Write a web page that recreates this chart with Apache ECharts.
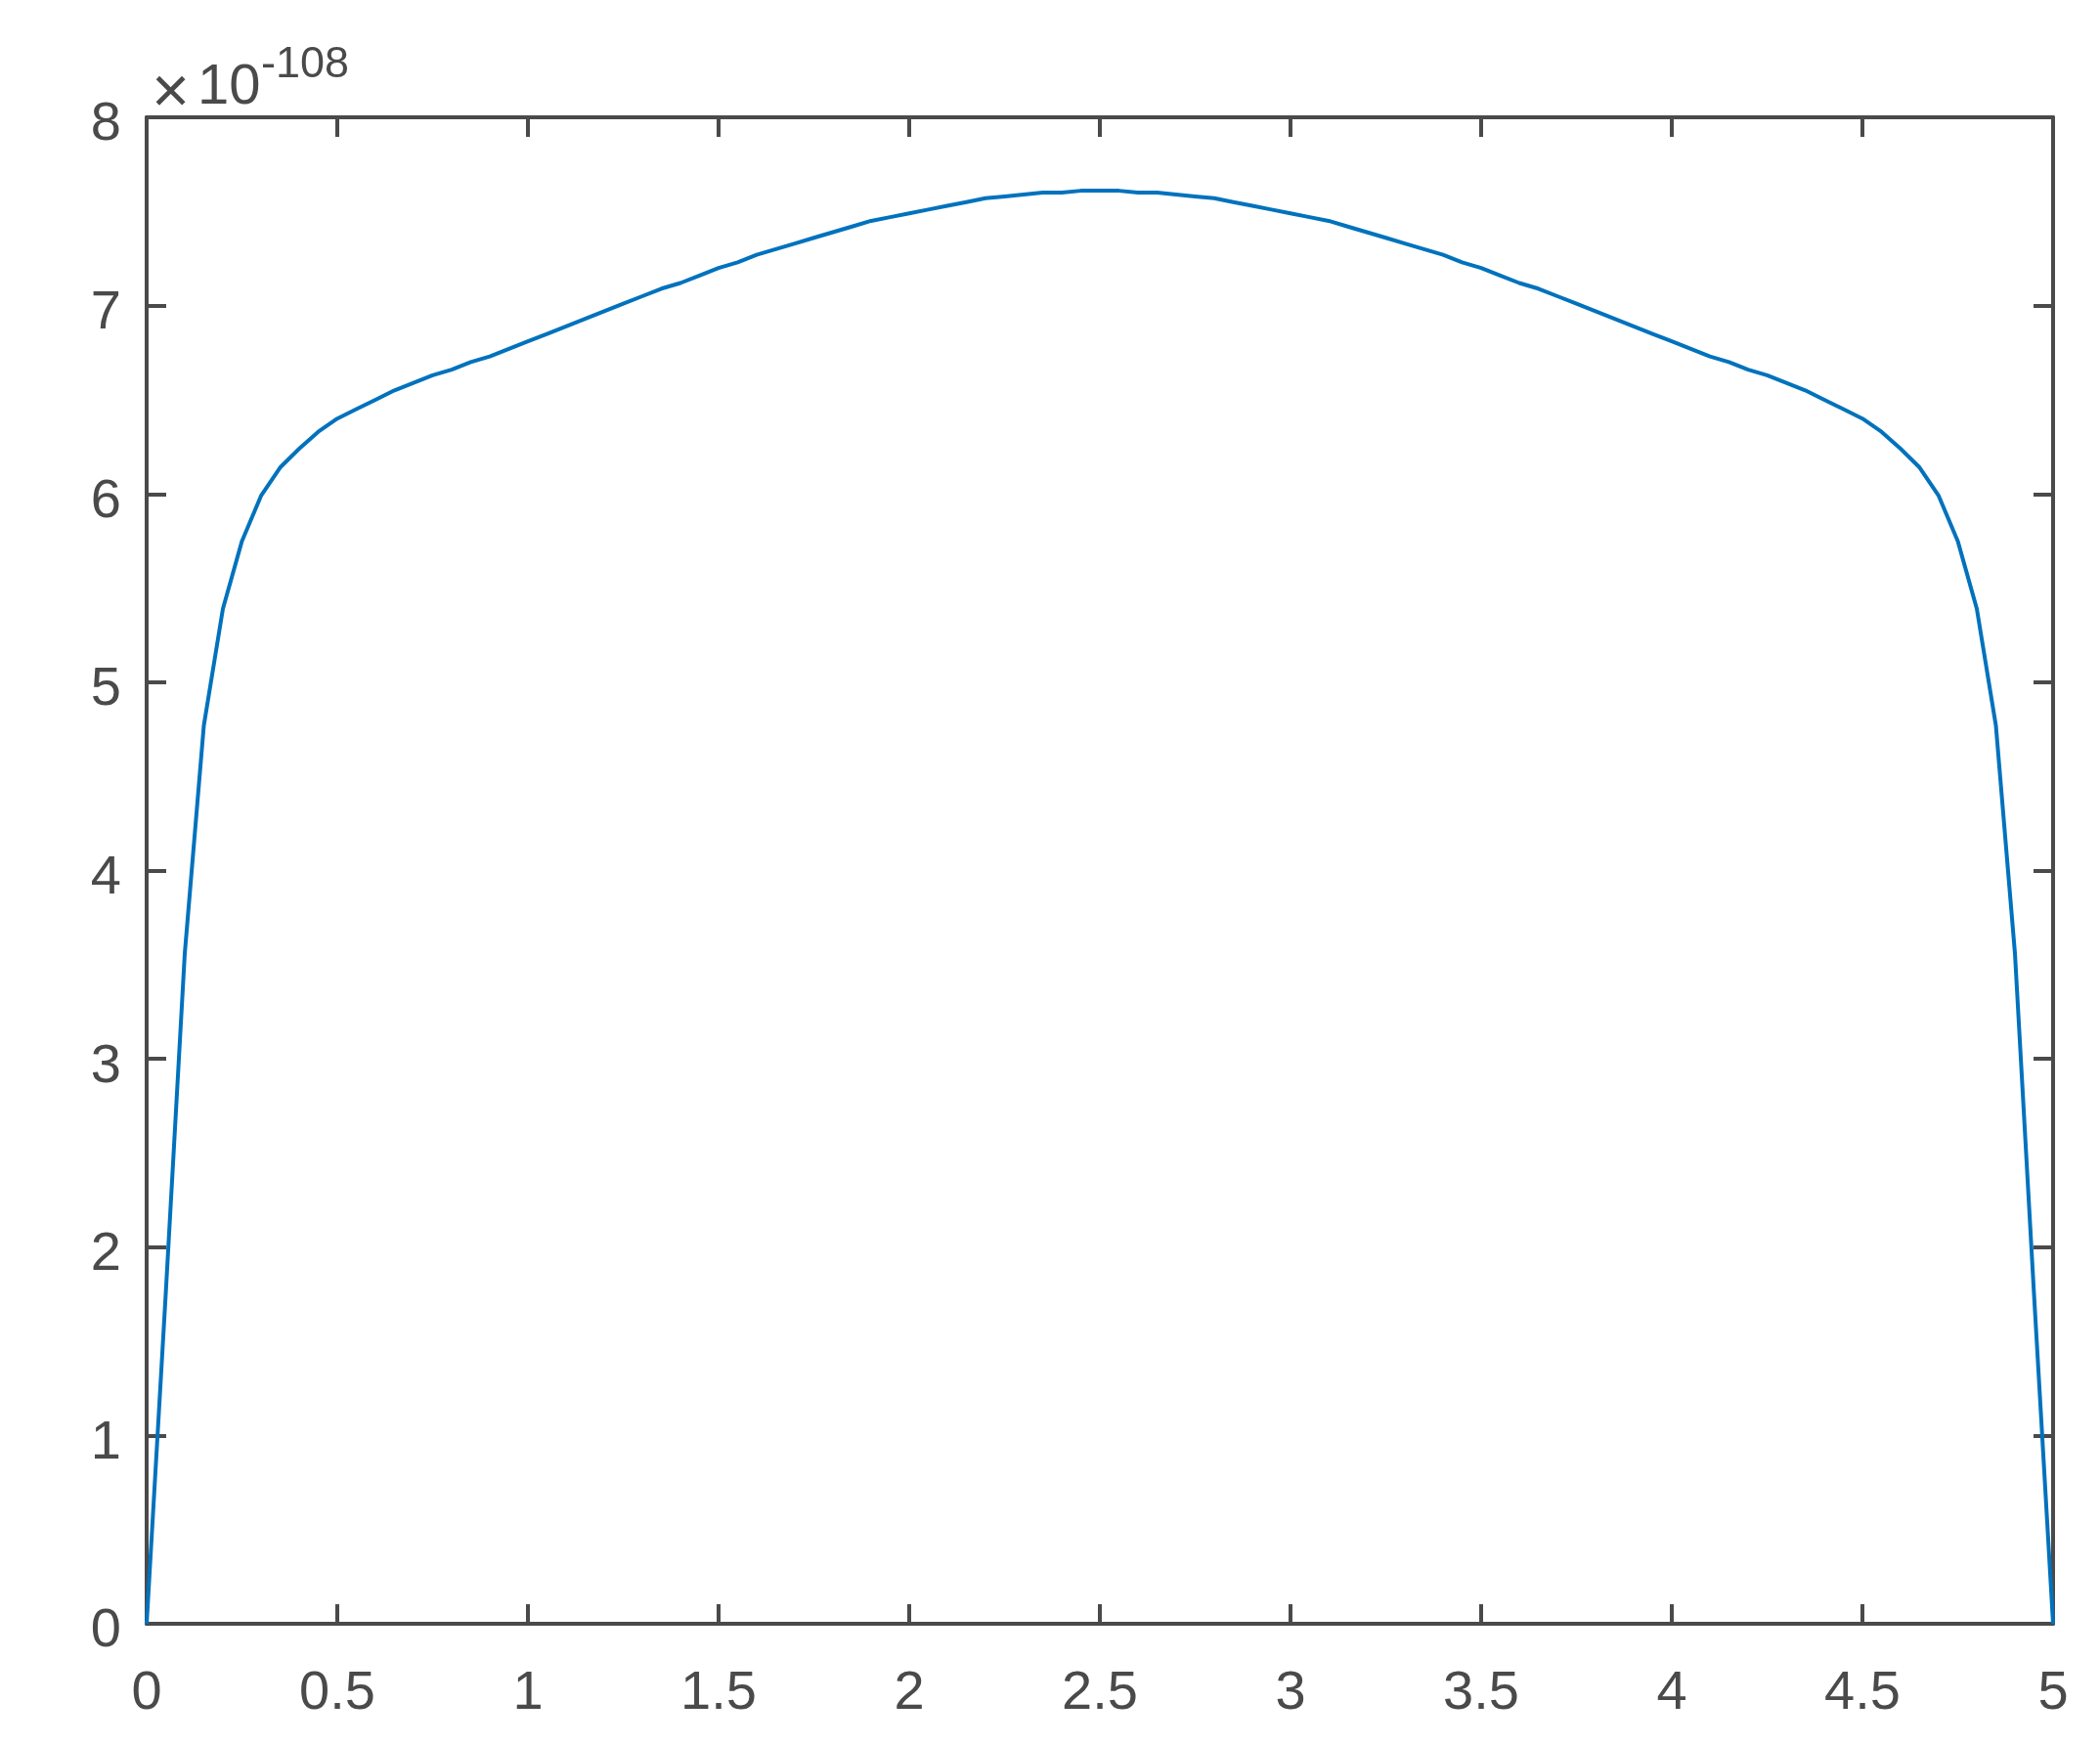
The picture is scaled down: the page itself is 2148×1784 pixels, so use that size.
<!DOCTYPE html>
<html>
<head>
<meta charset="utf-8">
<script src="https://cdn.jsdelivr.net/npm/echarts@6/dist/echarts.min.js"></script>
<style>
html,body{margin:0;padding:0;background:#fff;}
#chart{width:2148px;height:1784px;}
</style>
</head>
<body>
<div id="chart"></div>
<script>
const xValues = [
  0, 0.05, 0.1, 0.15, 0.2, 0.25, 0.3, 0.35, 0.4, 0.45,
  0.5, 0.55, 0.6, 0.65, 0.7, 0.75, 0.8, 0.85, 0.9, 0.95,
  1.0, 1.05, 1.1, 1.15, 1.2, 1.25, 1.3, 1.35, 1.4, 1.45,
  1.5, 1.55, 1.6, 1.65, 1.7, 1.75, 1.8, 1.85, 1.9, 1.95,
  2.0, 2.05, 2.1, 2.15, 2.2, 2.25, 2.3, 2.35, 2.4, 2.45,
  2.5, 2.55, 2.6, 2.65, 2.7, 2.75, 2.8, 2.85, 2.9, 2.95,
  3.0, 3.05, 3.1, 3.15, 3.2, 3.25, 3.3, 3.35, 3.4, 3.45,
  3.5, 3.55, 3.6, 3.65, 3.7, 3.75, 3.8, 3.85, 3.9, 3.95,
  4.0, 4.05, 4.1, 4.15, 4.2, 4.25, 4.3, 4.35, 4.4, 4.45,
  4.5, 4.55, 4.6, 4.65, 4.7, 4.75, 4.8, 4.85, 4.9, 4.95,
  5.0
];
// values in units of 1e-108
const yValues = [
  0, 1.75, 3.56, 4.77, 5.39, 5.75, 5.99, 6.14, 6.24, 6.33,
  6.40, 6.45, 6.50, 6.55, 6.59, 6.63, 6.66, 6.70, 6.73, 6.77,
  6.81, 6.85, 6.89, 6.93, 6.97, 7.01, 7.05, 7.09, 7.12, 7.16,
  7.20, 7.23, 7.27, 7.30, 7.33, 7.36, 7.39, 7.42, 7.45, 7.47,
  7.49, 7.51, 7.53, 7.55, 7.57, 7.58, 7.59, 7.60, 7.60, 7.61,
  7.61, 7.61, 7.60, 7.60, 7.59, 7.58, 7.57, 7.55, 7.53, 7.51,
  7.49, 7.47, 7.45, 7.42, 7.39, 7.36, 7.33, 7.30, 7.27, 7.23,
  7.20, 7.16, 7.12, 7.09, 7.05, 7.01, 6.97, 6.93, 6.89, 6.85,
  6.81, 6.77, 6.73, 6.70, 6.66, 6.63, 6.59, 6.55, 6.50, 6.45,
  6.40, 6.33, 6.24, 6.14, 5.99, 5.75, 5.39, 4.77, 3.56, 1.75,
  0
];
const exponentTimes = '×';
const exponentBase = '10';
const exponentPower = '-108';

const axisColor = '#4a4a4a';
const fontFamily = '"Liberation Sans", Arial, Helvetica, sans-serif';

const chart = echarts.init(document.getElementById('chart'), null, {renderer: 'canvas'});

const commonLine = {show: true, onZero: false, lineStyle: {color: axisColor, width: 4}};
const commonTick = {show: true, inside: true, length: 20, lineStyle: {color: axisColor, width: 4}};

const data = xValues.map((x, i) => [x, yValues[i]]);

chart.setOption({
  backgroundColor: '#ffffff',
  animation: false,
  grid: {left: 150, right: 48, top: 120, bottom: 123, containLabel: false},
  xAxis: [
    {
      type: 'value', position: 'bottom', min: 0, max: 5, interval: 0.5,
      axisLine: commonLine, axisTick: commonTick, splitLine: {show: false},
      axisLabel: {show: true, color: axisColor, fontSize: 56, fontFamily: fontFamily, margin: 44,
        formatter: v => String(v)}
    },
    {
      type: 'value', position: 'top', min: 0, max: 5, interval: 0.5,
      axisLine: commonLine, axisTick: commonTick, splitLine: {show: false},
      axisLabel: {show: false}
    }
  ],
  yAxis: [
    {
      type: 'value', position: 'left', min: 0, max: 8, interval: 1,
      axisLine: commonLine, axisTick: commonTick, splitLine: {show: false},
      axisLabel: {show: true, color: axisColor, fontSize: 56, fontFamily: fontFamily, margin: 26,
        formatter: v => '{a|' + v + '}',
        rich: {a: {color: axisColor, fontSize: 56, fontFamily: fontFamily, padding: [16, 0, 0, 0]}}}
    },
    {
      type: 'value', position: 'right', min: 0, max: 8, interval: 1,
      axisLine: commonLine, axisTick: commonTick, splitLine: {show: false},
      axisLabel: {show: false}
    }
  ],
  graphic: [
    {
      type: 'text', x: 155, y: 97,
      style: {text: exponentTimes, fill: axisColor, fontSize: 67, fontFamily: fontFamily,
        align: 'left', verticalAlign: 'middle'}
    },
    {
      type: 'text', x: 202, y: 90,
      style: {text: exponentBase, fill: axisColor, fontSize: 58, fontFamily: fontFamily,
        align: 'left', verticalAlign: 'middle'}
    },
    {
      type: 'text', x: 267, y: 67,
      style: {text: exponentPower, fill: axisColor, fontSize: 45, fontFamily: fontFamily,
        align: 'left', verticalAlign: 'middle'}
    }
  ],
  series: [
    {
      type: 'line', xAxisIndex: 0, yAxisIndex: 0, data: data,
      showSymbol: false, symbol: 'none', smooth: false,
      lineStyle: {color: '#0072BD', width: 4},
      clip: false
    }
  ]
});
</script>
</body>
</html>
